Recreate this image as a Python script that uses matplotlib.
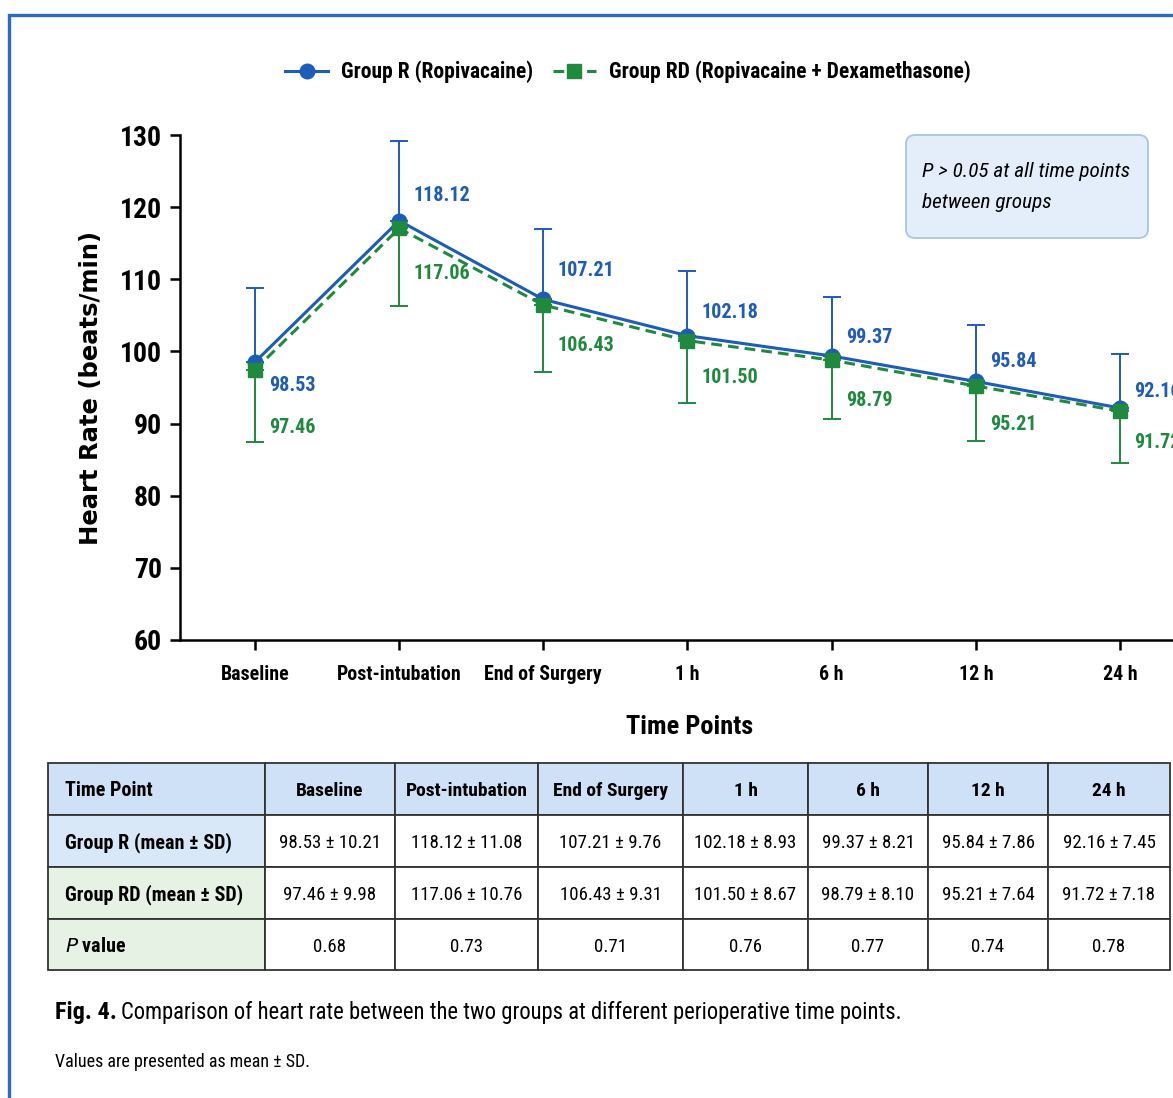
import numpy as np
import matplotlib.pyplot as plt
from matplotlib.patches import Rectangle, FancyBboxPatch

# Data
time_points = ["Baseline", "Post-intubation", "End of Surgery", "1 h", "6 h",
               "12 h", "24 h"]
r_mean = [98.53, 118.12, 107.21, 102.18, 99.37, 95.84, 92.16]
r_sd = [10.21, 11.08, 9.76, 8.93, 8.21, 7.86, 7.45]
rd_mean = [97.46, 117.06, 106.43, 101.50, 98.79, 95.21, 91.72]
rd_sd = [9.98, 10.76, 9.31, 8.67, 8.10, 7.64, 7.18]
p_values = ["0.68", "0.73", "0.71", "0.76", "0.77", "0.74", "0.78"]

# Label offsets in pixels (dy)
r_label_dy = [-23, 25, 29, 23, 18, 20, 16]
rd_label_dy = [-58, -45, -40, -37, -40, -39, -31]

BLUE = "#1d5cb8"
GREEN = "#1f8a3e"
NARROW = ["Roboto Condensed", "Liberation Sans Narrow", "Roboto", "DejaVu Sans"]

plt.rcParams['font.family'] = NARROW

W, H = 1173, 1098
fig = plt.figure(figsize=(W / 100, H / 100), dpi=100)


def fx(px):
    return px / W


def fy(py):
    return 1 - py / H


# Blue frame (cropped on right/bottom)
fig.patches.append(Rectangle((fx(9), -0.05), 1.2, fy(15) + 0.05,
                             transform=fig.transFigure, fill=False,
                             edgecolor="#2a6cc4", linewidth=2.4))

# Main axes
ax = fig.add_axes([fx(180), fy(640), fx(1200) - fx(180), fy(135) - fy(640)])
x = np.arange(len(time_points))
ax.errorbar(x, r_mean, yerr=[np.zeros(len(r_sd)), r_sd], fmt='none',
            ecolor=BLUE, elinewidth=1.4, capsize=6.5, capthick=1.4, zorder=2)
ax.errorbar(x, rd_mean, yerr=[rd_sd, np.zeros(len(rd_sd))], fmt='none',
            ecolor=GREEN, elinewidth=1.4, capsize=6.5, capthick=1.4, zorder=2)
ax.plot(x, r_mean, color=BLUE, lw=2.2, marker='o', ms=10.5, zorder=3,
        label="Group R (Ropivacaine)")
ax.plot(x, rd_mean, color=GREEN, lw=2.2, ls=(0, (3.5, 2)), marker='s', ms=9.5,
        zorder=4, label="Group RD (Ropivacaine + Dexamethasone)")

for i in range(len(x)):
    ax.annotate(f"{r_mean[i]:.2f}", (x[i], r_mean[i]),
                xytext=(14, r_label_dy[i]), textcoords='offset pixels',
                ha='left', va='center', color=BLUE, fontsize=14.5,
                fontweight='bold', annotation_clip=False)
    ax.annotate(f"{rd_mean[i]:.2f}", (x[i], rd_mean[i]),
                xytext=(14, rd_label_dy[i]), textcoords='offset pixels',
                ha='left', va='center', color=GREEN, fontsize=14.5,
                fontweight='bold', annotation_clip=False)

ax.set_xlim(-0.52, 6.555)
ax.set_ylim(60, 130)
ax.set_yticks(np.arange(60, 131, 10))
ax.set_xticks(x)
ax.set_xticklabels(time_points, fontsize=14.3, fontweight='bold')
ax.tick_params(axis='y', labelsize=20, length=7, width=1.8, pad=6)
ax.tick_params(axis='x', length=7, width=1.8, pad=11)
for lab in ax.get_yticklabels():
    lab.set_fontweight('bold')
for s in ['top', 'right']:
    ax.spines[s].set_visible(False)
for s in ['left', 'bottom']:
    ax.spines[s].set_linewidth(1.8)
ax.set_ylabel("Heart Rate (beats/min)", fontsize=17.5, fontweight='bold',
              family='DejaVu Sans', labelpad=12)
ax.set_xlabel("Time Points", fontsize=19, fontweight='bold', labelpad=22)

fig.legend(loc='center', bbox_to_anchor=(fx(628), fy(72)), ncol=2,
           frameon=False, handlelength=2.0, handletextpad=0.6,
           columnspacing=0.9, prop={'weight': 'bold', 'size': 15.5})

# Note box
fig.patches.append(FancyBboxPatch((fx(906), fy(238)), fx(1148) - fx(906),
                                  fy(135) - fy(238),
                                  boxstyle="round,pad=0,rounding_size=0.008",
                                  transform=fig.transFigure,
                                  facecolor="#e4eefa", edgecolor="#a8c4e6",
                                  linewidth=1.3))
fig.text(fx(922), fy(187), "P > 0.05 at all time points\nbetween groups",
         fontsize=15.3, style='italic', va='center', ha='left',
         linespacing=1.85)

# Table
col_edges = [48, 265, 395, 538, 683, 808, 928, 1048, 1170]
row_edges = [763, 815, 867, 919, 970]
header = ["Time Point"] + time_points
rows = [
    ["Group R (mean ± SD)"] + [f"{m:.2f} ± {s:.2f}" for m, s in zip(r_mean, r_sd)],
    ["Group RD (mean ± SD)"] + [f"{m:.2f} ± {s:.2f}" for m, s in zip(rd_mean, rd_sd)],
    ["$\\it{P}$ value"] + p_values,
]
cells = [header] + rows
fills = ["#cfe1f7", "#d9e8f8", "#e6f2e4", "#e6f2e4"]
for r, row in enumerate(cells):
    y0, y1 = row_edges[r], row_edges[r + 1]
    for c, txt in enumerate(row):
        x0, x1 = col_edges[c], col_edges[c + 1]
        if r == 0:
            fc = fills[0]
        elif c == 0:
            fc = fills[r]
        else:
            fc = "white"
        fig.patches.append(Rectangle((fx(x0), fy(y1)), fx(x1) - fx(x0),
                                     fy(y0) - fy(y1),
                                     transform=fig.transFigure, facecolor=fc,
                                     edgecolor="#333333", linewidth=1.3))
        bold = (r == 0) or (c == 0)
        if c == 0:
            fig.text(fx(x0 + 17), fy((y0 + y1) / 2 + 2), txt, ha='left',
                     va='center', fontsize=14.5,
                     fontweight='bold' if bold else 'normal')
        else:
            fig.text(fx((x0 + x1) / 2), fy((y0 + y1) / 2 + 2), txt,
                     ha='center', va='center',
                     fontsize=14 if r == 0 else 13.6,
                     fontweight='bold' if bold else 'normal')

# Caption
fig.text(fx(55), fy(1012), "Fig. 4.", fontsize=17.5, fontweight='bold',
         va='center', ha='left')
fig.text(fx(121), fy(1013),
         "Comparison of heart rate between the two groups at different "
         "perioperative time points.", fontsize=16.3, va='center', ha='left')
fig.text(fx(55), fy(1062), "Values are presented as mean ± SD.",
         fontsize=13, va='center', ha='left')

fig.savefig("out.png", dpi=100)
